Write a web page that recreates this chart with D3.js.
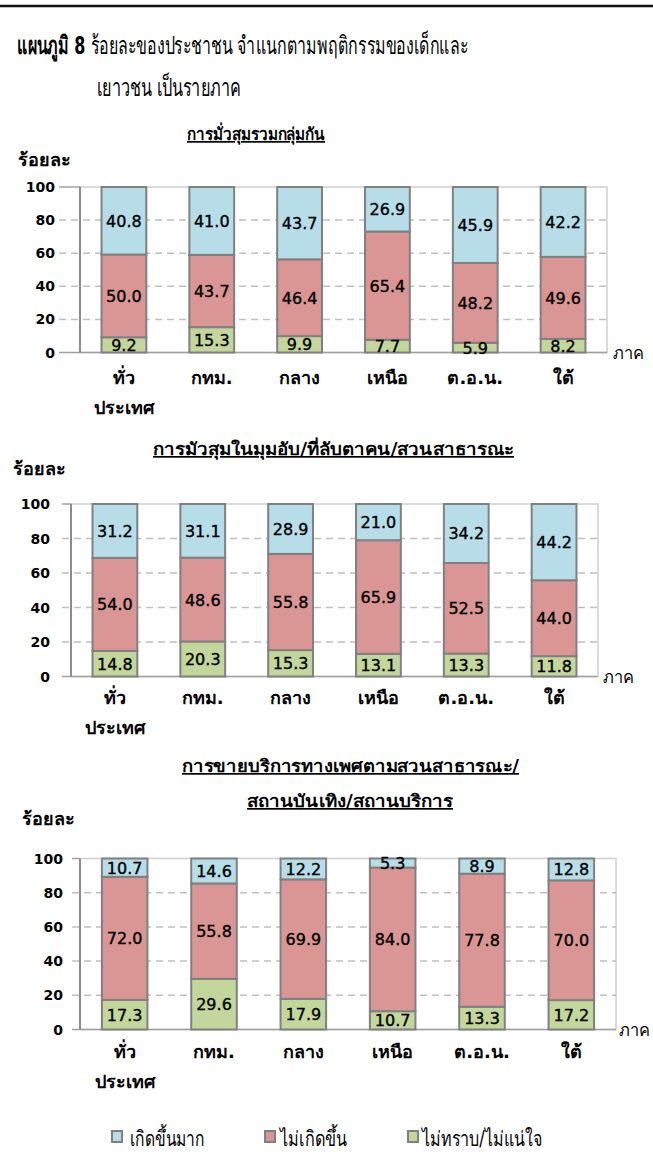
<!DOCTYPE html>
<html>
<head>
<meta charset="utf-8">
<script src="https://cdn.jsdelivr.net/npm/d3@7"></script>
<style>
  body { margin: 0; background: #fff; }
  svg text { font-family: "DejaVu Sans", sans-serif; fill: #000; }
</style>
</head>
<body>
<div id="chart"></div>
<script>
// categories (regions)
const regions = ["ทั่วประเทศ", "กทม.", "กลาง", "เหนือ", "ต.อ.น.", "ใต้"];
const regionLines = [["ทั่ว", "ประเทศ"], ["กทม."], ["กลาง"], ["เหนือ"], ["ต.อ.น."], ["ใต้"]];
const seriesNames = ["เกิดขึ้นมาก", "ไม่เกิดขึ้น", "ไม่ทราบ/ไม่แน่ใจ"];
const yTicks = [0, 20, 40, 60, 80, 100];

// chart 1: การมั่วสุมรวมกลุ่มกัน
const c1Often = [40.8, 41.0, 43.7, 26.9, 45.9, 42.2];
const c1Not = [50.0, 43.7, 46.4, 65.4, 48.2, 49.6];
const c1Unsure = [9.2, 15.3, 9.9, 7.7, 5.9, 8.2];

// chart 2: การมัวสุมในมุมอับ/ที่ลับตาคน/สวนสาธารณะ
const c2Often = [31.2, 31.1, 28.9, 21.0, 34.2, 44.2];
const c2Not = [54.0, 48.6, 55.8, 65.9, 52.5, 44.0];
const c2Unsure = [14.8, 20.3, 15.3, 13.1, 13.3, 11.8];

// chart 3: การขายบริการทางเพศ...
const c3Often = [10.7, 14.6, 12.2, 5.3, 8.9, 12.8];
const c3Not = [72.0, 55.8, 69.9, 84.0, 77.8, 70.0];
const c3Unsure = [17.3, 29.6, 17.9, 10.7, 13.3, 17.2];

const width = 653, height = 1171;
const keys = ["unsure", "not", "often"];
const color = d3.scaleOrdinal()
    .domain(["often", "not", "unsure"])
    .range(["#b7dde8", "#d99694", "#c3d69b"]);

const svg = d3.select("#chart")
  .append("svg")
    .attr("width", width)
    .attr("height", height);

// top rule
svg.append("line")
    .attr("x1", 0).attr("x2", width)
    .attr("y1", 6).attr("y2", 6)
    .attr("stroke", "#111")
    .attr("stroke-width", 2.5);

// squeeze a text horizontally to a target width (original uses a narrow Thai font)
function squeeze(sel, x, y, w) {
  const len = sel.node().getComputedTextLength();
  sel.attr("transform", `translate(${x},${y}) scale(${w / len},1)`);
}

// main title
const title = svg.append("text")
    .style("font-size", "25px");
title.append("tspan").style("font-weight", "bold").text("แผนภูมิ 8 ");
title.append("tspan").text("ร้อยละของประชาชน  จำแนกตามพฤติกรรมของเด็กและ");
squeeze(title, 17, 54, 446);

const title2 = svg.append("text")
    .style("font-size", "25px")
    .text("เยาวชน  เป็นรายภาค");
squeeze(title2, 97, 96, 146);

function drawChart(cfg, often, not, unsure) {
  const rows = regions.map((r, i) => ({region: r, often: often[i], not: not[i], unsure: unsure[i]}));
  const stacked = d3.stack().keys(keys)(rows);

  const x = d3.scaleBand()
      .domain(regions)
      .range([cfg.left, cfg.right])
      .paddingInner(0.49)
      .paddingOuter(0.245);

  const y = d3.scaleLinear()
      .domain([0, 100])
      .range([cfg.bottom, cfg.top]);

  const g = svg.append("g");

  // chart title (underlined)
  cfg.title.forEach((t, i) => {
    g.append("text")
        .attr("x", cfg.titleX[i] - cfg.titleW[i] / 2)
        .attr("y", cfg.titleY + i * 35)
        .attr("textLength", cfg.titleW[i])
        .attr("lengthAdjust", "spacingAndGlyphs")
        .style("font-size", "17px")
        .style("font-weight", "bold")
        .style("text-decoration", "underline")
        .text(t);
  });

  g.append("text")
      .attr("x", cfg.yLabelX).attr("y", cfg.yLabelY)
      .style("font-size", "18px")
      .style("font-weight", "bold")
      .text("ร้อยละ");

  // plot border
  g.append("rect")
      .attr("x", cfg.left).attr("y", cfg.top)
      .attr("width", cfg.right - cfg.left)
      .attr("height", cfg.bottom - cfg.top)
      .attr("fill", "none")
      .attr("stroke", "#d0d0d0")
      .attr("stroke-width", 1.5);

  // gridlines
  g.append("g")
    .selectAll("line")
    .data(yTicks.filter(d => d > 0 && d < 100))
    .join("line")
      .attr("x1", cfg.gridStart).attr("x2", cfg.right)
      .attr("y1", d => y(d)).attr("y2", d => y(d))
      .attr("stroke", "#c0c0c0")
      .attr("stroke-width", 1.5)
      .attr("stroke-dasharray", "7,5");

  g.append("line")
      .attr("x1", cfg.gridStart).attr("x2", cfg.left)
      .attr("y1", y(100)).attr("y2", y(100))
      .attr("stroke", "#a0a0a0").attr("stroke-width", 1.5);

  // x axis line
  g.append("line")
      .attr("x1", cfg.gridStart).attr("x2", cfg.right)
      .attr("y1", y(0)).attr("y2", y(0))
      .attr("stroke", "#a0a0a0").attr("stroke-width", 1.5);

  // y axis line
  g.append("line")
      .attr("x1", cfg.left).attr("x2", cfg.left)
      .attr("y1", y(0)).attr("y2", y(100))
      .attr("stroke", "#8c8c8c").attr("stroke-width", 2);

  // y tick labels
  g.append("g")
    .selectAll("text")
    .data(yTicks)
    .join("text")
      .attr("x", cfg.tickX)
      .attr("y", d => y(d) + 5)
      .attr("text-anchor", "end")
      .style("font-size", "14px")
      .style("font-weight", "bold")
      .text(d => d);

  // bars
  const layer = g.append("g")
    .selectAll("g")
    .data(stacked)
    .join("g")
      .attr("fill", d => color(d.key));

  layer.selectAll("rect")
    .data(d => d)
    .join("rect")
      .attr("x", d => x(d.data.region))
      .attr("y", d => y(d[1]))
      .attr("width", x.bandwidth())
      .attr("height", d => y(d[0]) - y(d[1]))
      .attr("stroke", "#808080")
      .attr("stroke-width", 2);

  // value labels
  const labels = g.append("g");
  stacked.forEach(s => {
    labels.selectAll(null)
      .data(s)
      .join("text")
        .attr("x", d => x(d.data.region) + x.bandwidth() / 2)
        .attr("y", d => y((d[0] + d[1]) / 2) + 6)
        .attr("text-anchor", "middle")
        .style("font-size", "16px")
        .style("stroke", "#000")
        .style("stroke-width", 0.35)
        .text(d => d3.format(".1f")(d.data[s.key]));
  });

  // category labels
  regions.forEach((r, i) => {
    regionLines[i].forEach((ln, j) => {
      g.append("text")
          .attr("x", x(r) + x.bandwidth() / 2)
          .attr("y", cfg.bottom + cfg.catDy + j * 30)
          .attr("text-anchor", "middle")
          .style("font-size", "18px")
          .style("font-weight", "bold")
          .text(ln);
    });
  });

  g.append("text")
      .attr("x", cfg.axisLabelX)
      .attr("y", cfg.bottom + 6)
      .attr("textLength", 31).attr("lengthAdjust", "spacingAndGlyphs")
      .style("font-size", "18px")
      .text("ภาค");
}

drawChart({
  left: 80, right: 607, top: 187, bottom: 352.5, gridStart: 59, tickX: 55,
  title: ["การมั่วสุมรวมกลุ่มกัน"], titleX: [256], titleW: [138], titleY: 140,
  yLabelX: 18, yLabelY: 166, catDy: 31, axisLabelX: 613
}, c1Often, c1Not, c1Unsure);

drawChart({
  left: 71, right: 598, top: 504, bottom: 676.5, gridStart: 62, tickX: 50,
  title: ["การมัวสุมในมุมอับ/ที่ลับตาคน/สวนสาธารณะ"], titleX: [333.5], titleW: [361], titleY: 455,
  yLabelX: 13, yLabelY: 475, catDy: 27, axisLabelX: 603
}, c2Often, c2Not, c2Unsure);

drawChart({
  left: 80, right: 616, top: 858.5, bottom: 1029.5, gridStart: 72, tickX: 63,
  title: ["การขายบริการทางเพศตามสวนสาธารณะ/", "สถานบันเทิง/สถานบริการ"],
  titleX: [350.5, 350], titleW: [337, 206], titleY: 772,
  yLabelX: 22, yLabelY: 825, catDy: 28, axisLabelX: 619
}, c3Often, c3Not, c3Unsure);

// legend
const legendX = [112, 265, 408];
const legendTextX = [130, 280, 422];
const legendW = [75, 67, 120];
const legend = svg.append("g")
  .selectAll("g")
  .data(["often", "not", "unsure"])
  .join("g")
    .attr("transform", (d, i) => `translate(${legendX[i]},1131)`);

legend.append("rect")
    .attr("width", 10).attr("height", 11)
    .attr("fill", d => color(d))
    .attr("stroke", "#808080")
    .attr("stroke-width", 2);

legend.append("text")
    .attr("x", (d, i) => legendTextX[i] - legendX[i])
    .attr("y", 15)
    .attr("textLength", (d, i) => legendW[i])
    .attr("lengthAdjust", "spacingAndGlyphs")
    .style("font-size", "21px")
    .text((d, i) => seriesNames[i]);
</script>
</body>
</html>
